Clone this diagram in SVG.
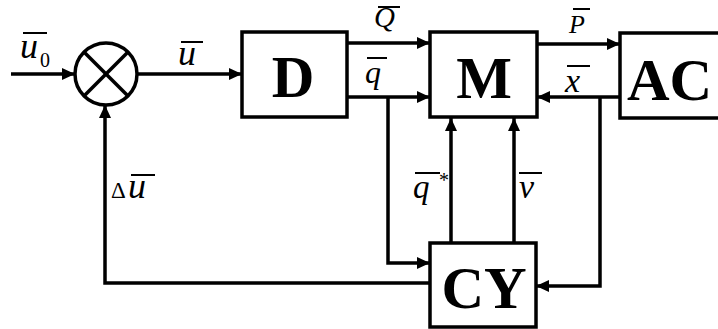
<svg xmlns="http://www.w3.org/2000/svg" width="718" height="329" viewBox="0 0 718 329">
<style>
.box{fill:#fff;stroke:#000;stroke-width:3.5}
.ln{fill:none;stroke:#000;stroke-width:3.5}
.ob{stroke:#000;stroke-width:2}
.big{font-family:"Liberation Serif","Times New Roman",serif;font-weight:bold;font-size:59px;fill:#000}
.lab{font-family:"Liberation Serif","Times New Roman",serif;font-style:italic;fill:#000}
.up{font-family:"Liberation Serif","Times New Roman",serif;fill:#000}
</style>
<defs>
<marker id="ah" markerUnits="userSpaceOnUse" markerWidth="14" markerHeight="12" refX="13" refY="6" orient="auto">
<path d="M0,0 L13,6 L0,12 z" fill="#000"/>
</marker>
</defs>
<rect width="718" height="329" fill="#fff"/>
<g id="connectors">
<line class="ln" x1="11" y1="74" x2="75" y2="74" marker-end="url(#ah)"/>
<line class="ln" x1="137" y1="74" x2="242" y2="74" marker-end="url(#ah)"/>
<line class="ln" x1="347" y1="43" x2="430" y2="43" marker-end="url(#ah)"/>
<line class="ln" x1="347" y1="97" x2="430" y2="97" marker-end="url(#ah)"/>
<polyline class="ln" points="388,97 388,263 430,263" marker-end="url(#ah)"/>
<line class="ln" x1="537" y1="44" x2="620" y2="44" marker-end="url(#ah)"/>
<line class="ln" x1="620" y1="97" x2="537" y2="97" marker-end="url(#ah)"/>
<polyline class="ln" points="600,97 600,286 536,286" marker-end="url(#ah)"/>
<line class="ln" x1="451" y1="243" x2="451" y2="118" marker-end="url(#ah)"/>
<line class="ln" x1="514" y1="243" x2="514" y2="118" marker-end="url(#ah)"/>
<polyline class="ln" points="430,283 105,283 105,105" marker-end="url(#ah)"/>
</g>
<g id="sum">
<circle cx="106" cy="74" r="31" class="box"/>
<line class="ln" x1="84" y1="52" x2="128" y2="96"/>
<line class="ln" x1="128" y1="52" x2="84" y2="96"/>
</g>
<g id="D">
<rect class="box" x="242" y="32" width="105" height="85"/>
<text class="big" x="293" y="97" text-anchor="middle">D</text>
</g>
<g id="M">
<rect class="box" x="430" y="32" width="107" height="85"/>
<text class="big" x="484" y="98" text-anchor="middle">M</text>
</g>
<g id="AC">
<rect class="box" x="620" y="33" width="110" height="85"/>
<text class="big" x="627" y="100">AC</text>
</g>
<g id="CY">
<rect class="box" x="430" y="243" width="106" height="84"/>
<text class="big" x="484" y="308" text-anchor="middle">CY</text>
</g>
<g id="labels">
<text class="lab" x="20" y="58" font-size="36">u</text>
<text class="up" x="40" y="67" font-size="20">0</text>
<line class="ob" x1="23" y1="33" x2="47" y2="33"/>
<text class="lab" x="178" y="65" font-size="36">u</text>
<line class="ob" x1="181" y1="42" x2="203" y2="42"/>
<text class="lab" x="374" y="27" font-size="29">Q</text>
<line class="ob" x1="378" y1="7" x2="400" y2="7"/>
<text class="lab" x="365" y="83" font-size="32">q</text>
<line class="ob" x1="367" y1="58" x2="387" y2="58"/>
<text class="lab" x="569" y="33" font-size="26">P</text>
<line class="ob" x1="573" y1="9" x2="590" y2="9"/>
<text class="lab" x="565" y="92" font-size="34">x</text>
<line class="ob" x1="567" y1="66" x2="590" y2="66"/>
<text class="lab" x="413" y="198" font-size="33">q</text>
<text class="up" x="439" y="187" font-size="20">*</text>
<line class="ob" x1="415" y1="173" x2="440" y2="173"/>
<text class="lab" x="519" y="198" font-size="34">v</text>
<line class="ob" x1="519" y1="173" x2="542" y2="173"/>
<text class="up" x="111" y="198" font-size="23">Δ</text>
<text class="lab" x="128" y="198" font-size="36">u</text>
<line class="ob" x1="131" y1="175" x2="155" y2="175"/>
</g>
</svg>
